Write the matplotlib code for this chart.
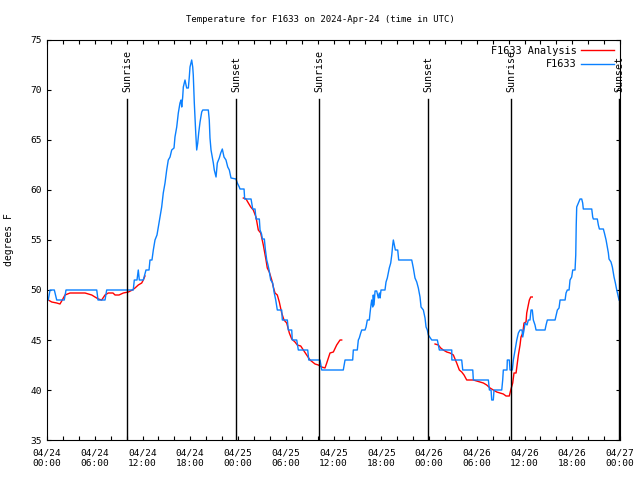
import matplotlib
matplotlib.use("Agg")
import matplotlib.pyplot as plt

# hours since 04/24 00:00 UTC and temperatures (degrees F)
obs_hours = [0.16, 0.38, 0.92, 1.22, 2.17, 2.39, 6.25, 6.41, 7.29, 7.50, 10.84, 10.97, 11.31, 11.47,
             11.60, 12.10, 12.44, 12.82, 12.94, 13.19, 13.36, 13.57, 13.82, 13.99, 14.20, 14.41,
             14.61, 14.83, 15.04, 15.24, 15.46, 15.67, 15.96, 16.08, 16.30, 16.50, 16.71, 16.84,
             16.93, 17.05, 17.13, 17.34, 17.55, 17.76, 17.88, 17.97, 18.18, 18.31, 18.38, 18.51,
             18.69, 18.81, 18.94, 19.06, 19.23, 19.44, 19.57, 20.27, 20.39, 20.48, 20.61, 20.77,
             20.90, 21.02, 21.24, 21.40, 21.65, 21.83, 22.03, 22.24, 22.49, 22.71, 22.91, 23.12,
             23.75, 23.91, 24.16, 24.25, 24.76, 24.84, 25.64, 25.72, 25.85, 26.14, 26.26, 26.68,
             26.77, 26.96, 27.06, 27.31, 27.43, 27.61, 27.77, 27.90, 28.11, 28.36, 28.53, 28.74,
             28.94, 29.49, 29.57, 30.20, 30.32, 30.75, 30.82, 31.38, 31.58, 32.76, 32.89, 34.31,
             34.52, 37.23, 37.45, 38.41, 38.49, 38.99, 39.12, 39.24, 39.42, 39.55, 39.96, 40.09,
             40.25, 40.50, 40.59, 40.71, 40.80, 40.93, 41.00, 41.09, 41.22, 41.43, 41.63, 41.76,
             41.85, 41.97, 42.47, 42.60, 42.76, 42.89, 43.01, 43.19, 43.32, 43.44, 43.52, 43.64,
             43.77, 44.07, 44.19, 45.83, 46.03, 46.24, 46.46, 46.66, 46.87, 47.00, 47.29, 47.50,
             47.63, 47.79, 47.92, 48.34, 49.05, 49.30, 50.86, 50.87, 52.11, 52.24, 53.50, 53.57,
             55.46, 55.59, 55.80, 55.88, 56.08, 56.17, 57.14, 57.26, 57.34, 57.80, 57.84, 58.09,
             58.18, 58.47, 58.60, 58.81, 59.03, 59.23, 59.44, 59.69, 59.78, 59.94, 60.07, 60.32,
             60.48, 60.69, 60.82, 60.98, 61.11, 61.32, 61.45, 62.58, 62.71, 62.87, 63.84, 64.05,
             64.13, 64.34, 64.47, 65.10, 65.22, 65.38, 65.60, 65.72, 65.93, 66.06, 66.35, 66.44,
             66.50, 66.56, 66.77, 66.98, 67.19, 67.31, 67.39, 68.45, 68.57, 68.65, 69.15, 69.28,
             69.41, 69.91, 70.04, 70.25, 70.41, 70.54, 70.62, 70.87, 71.04, 71.25, 71.42, 71.59,
             71.79, 71.88]
obs_temps = [49, 50, 50, 49, 49, 50, 50, 49, 49, 50, 50, 51, 51, 52,
             51, 51, 52, 52, 53, 53, 54, 55, 55.5, 56.3, 57.3, 58.3,
             59.7, 60.7, 62, 63, 63.3, 64, 64.2, 65.3, 66.3, 67.7, 68.7, 69,
             68.3, 69.3, 70.3, 71, 70.2, 70.2, 71.3, 72.3, 73, 72.3, 71.5, 68.7,
             65.7, 64, 64.7, 65.7, 66.8, 67.8, 68, 68, 67, 65.2, 64, 63.3,
             62.7, 62, 61.3, 62.7, 63.2, 63.7, 64.1, 63.3, 63, 62.3, 62, 61.2,
             61.1, 60.7, 60.3, 60.1, 60.1, 59.1, 59.1, 58.7, 58.1, 58.1, 57.1, 57.1,
             56, 55.6, 55.1, 55.1, 54.1, 53, 52.5, 52, 51, 50.7, 49.8, 49,
             48, 48, 47, 47, 46, 46, 45, 45, 44, 44, 43, 43,
             42, 42, 43, 43, 44, 44, 45, 45.2, 45.7, 46, 46, 46.3,
             47, 47, 47.7, 48.5, 49, 48.3, 49.5, 48.5, 49.9, 49.9, 49.2, 49.7,
             49.2, 50, 50, 50.8, 51.2, 51.7, 52.2, 52.7, 53.5, 54.5, 55, 54.5,
             54, 54, 53, 53, 52.2, 51.2, 50.8, 50.2, 49.3, 48.3, 48, 47.2,
             46.3, 46, 45.5, 45, 45, 44, 44, 43, 43, 42, 42, 41,
             41, 40, 40, 39, 39, 40, 40, 41, 42, 42, 43, 43,
             42, 42, 43, 44, 45, 45.7, 46, 46, 45.3, 46, 46.7, 46.5,
             47, 47, 48, 48, 47, 46.5, 46, 46, 46.5, 47, 47, 47.7,
             48, 48.2, 49, 49, 49.7, 50, 50, 51, 51.3, 52, 52, 53.5,
             56.5, 58.3, 58.7, 59.1, 59.1, 58.7, 58.1, 58.1, 57.3, 57.1, 57.1, 56.5,
             56.1, 56.1, 55.7, 55, 54.3, 53.7, 53.1, 52.8, 52.3, 51.3, 50.7, 50,
             49.3, 49]

# analysis runs (three 12 h pieces)
ana1_hours = [0.16, 0.59, 1.22, 1.63, 1.92, 2.26, 2.89, 4.78, 5.62, 6.03, 6.45, 6.87, 7.29,
              7.70, 8.29, 8.55, 9.05, 9.59, 10.22, 10.72, 11.06, 11.47, 11.90, 12.10, 12.31]
ana1_temps = [49, 48.8, 48.7, 48.6, 49, 49.5, 49.7, 49.7, 49.5, 49.3, 49.1, 49, 49.5,
              49.7, 49.7, 49.5, 49.5, 49.7, 49.8, 50, 50.2, 50.5, 50.7, 51, 51.4]
ana2_hours = [24.67, 25.01, 25.30, 25.60, 25.92, 26.26, 26.55, 26.85, 27.18, 27.52, 27.68,
              27.93, 28.24, 28.44, 28.65, 28.94, 29.19, 29.49, 29.78, 30.12, 30.45, 30.75,
              31.16, 31.45, 31.88, 32.21, 32.63, 33.05, 33.68, 34.09, 34.52, 34.93, 35.15,
              35.56, 35.98, 36.40, 36.82, 37.03]
ana2_temps = [59.2, 59.1, 58.7, 58.3, 58, 57.3, 56, 55.7, 54.5, 53, 52.2,
              51.8, 51, 50.3, 49.7, 49.5, 48.8, 47.7, 47, 46.7, 45.7, 45.1,
              44.8, 44.5, 44.4, 44, 43.5, 43, 42.6, 42.5, 42.3, 42.2, 42.7,
              43.7, 43.8, 44.5, 45, 45]
ana3_hours = [48.76, 49.17, 49.47, 49.80, 50.23, 50.64, 51.06, 51.48, 51.81, 52.11, 52.40,
              52.74, 53.57, 54.41, 54.83, 55.25, 55.67, 56.08, 56.51, 56.92, 57.34, 57.68,
              58.09, 58.27, 58.52, 58.68, 58.94, 59.10, 59.23, 59.44, 59.56, 59.78, 59.94,
              60.19, 60.28, 60.48, 60.61, 60.78, 60.98]
ana3_temps = [44.6, 44.5, 44.2, 44, 43.8, 43.7, 43.5, 42.7, 42, 41.8, 41.5,
              41, 41, 40.8, 40.7, 40.5, 40.2, 40, 39.8, 39.7, 39.6, 39.4,
              39.4, 40, 40.7, 41.7, 41.7, 42.7, 43.5, 44.5, 45.3, 45.7, 46.7,
              46.8, 47.7, 48.5, 49, 49.3, 49.3]

sun_hours = [10.05, 23.75, 34.18, 47.88, 58.31, 71.88]
sun_names = ["Sunrise", "Sunset", "Sunrise", "Sunset", "Sunrise", "Sunset"]

tick_hours = [0, 6, 12, 18, 24, 30, 36, 42, 48, 54, 60, 66, 72]
tick_labels = ["04/24\n00:00", "04/24\n06:00", "04/24\n12:00", "04/24\n18:00",
               "04/25\n00:00", "04/25\n06:00", "04/25\n12:00", "04/25\n18:00",
               "04/26\n00:00", "04/26\n06:00", "04/26\n12:00", "04/26\n18:00",
               "04/27\n00:00"]

plt.rcParams['font.family'] = ['DejaVu Sans Mono']
plt.rcParams['font.size'] = 6.8

fig = plt.figure(figsize=(6.4, 4.8), dpi=100)
ax = fig.add_axes([47/640, 40/480, 573/640, 400/480])

red = '#ff0000'
blue = '#0a80ff'

ax.plot(ana1_hours, ana1_temps, color=red, lw=1, label="F1633 Analysis")
ax.plot(ana2_hours, ana2_temps, color=red, lw=1)
ax.plot(ana3_hours, ana3_temps, color=red, lw=1)
ax.plot(obs_hours, obs_temps, color=blue, lw=1, label="F1633")

for h, name in zip(sun_hours, sun_names):
    ax.axvline(h, ymin=0, ymax=(69.1 - 35) / 40, color='black', lw=1)
    ax.text(h, 69.8, name, rotation=90, ha='center', va='bottom', fontsize=7.2)

ax.set_xlim(0, 72)
ax.set_ylim(35, 75)
ax.set_xticks(tick_hours)
ax.set_xticklabels(tick_labels, linespacing=1.3)
ax.set_xticks(range(0, 73, 2), minor=True)
ax.set_yticks(range(35, 76, 5))
ax.tick_params(which='both', direction='in', top=True, right=True, length=3, width=0.8)
ax.tick_params(axis='x', pad=6)
ax.set_ylabel("degrees F", labelpad=12, fontsize=7)

# title centred on the whole figure, like gnuplot does
fig.text(0.5, 1 - 20/480, "Temperature for F1633 on 2024-Apr-24 (time in UTC)",
         ha='center', va='center', fontsize=6.5)

ax.legend(loc='upper right', frameon=False, markerfirst=False, handlelength=3.2,
          borderaxespad=0.15, labelspacing=0.35, handletextpad=0.5, fontsize=7.4)

fig.savefig("out.png", dpi=100)
